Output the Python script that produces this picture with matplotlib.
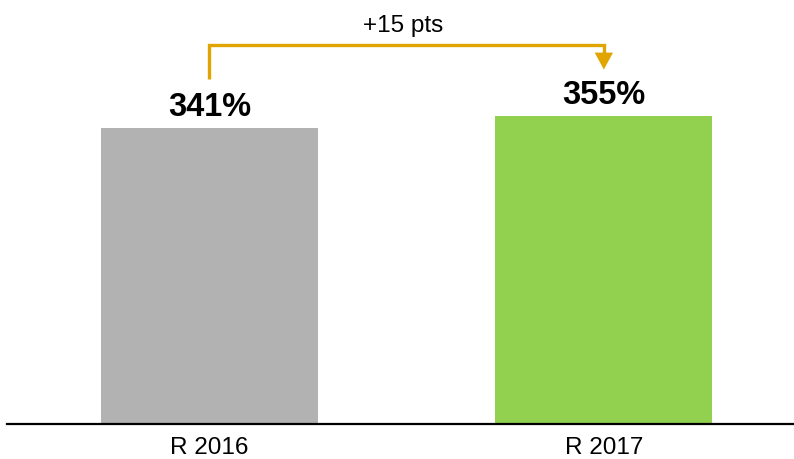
import matplotlib
matplotlib.use('Agg')
import matplotlib.pyplot as plt

categories = ['R 2016', 'R 2017']
values = [341, 355]
colors = ['#B2B2B2', '#92D050']
change_label = '+15 pts'

plt.rcParams['font.family'] = ['Liberation Sans', 'DejaVu Sans']

fig = plt.figure(figsize=(7.94, 4.59), dpi=100)
ax = fig.add_axes([7 / 794, 35 / 459, 1 - 7 / 794, 424 / 459])

x = list(range(len(categories)))
ax.bar(x, values, width=0.55, color=colors, zorder=2)

ax.set_xlim(-0.513, 1.482)
ax.set_ylim(0, 488)

for xi, v in zip(x, values):
    ax.annotate(f'{v}%', (xi, v), xytext=(0, 3.5), textcoords='offset points',
                ha='center', va='bottom', fontsize=23.5, fontweight='bold')

# bracket arrow between the two bars
gold = '#E0A500'
y_start = values[0] + 56
y_top = max(values) + 81
y_tip = values[1] + 53
ax.plot([x[0], x[0], x[1], x[1]], [y_start, y_top, y_top, y_tip + 18],
        color=gold, lw=2.4, solid_joinstyle='miter', solid_capstyle='butt')
ax.annotate('', xy=(x[1], y_tip), xytext=(x[1], y_tip + 20),
            arrowprops=dict(arrowstyle='-|>,head_width=0.65,head_length=1.2',
                            color=gold, lw=0.1, shrinkA=0, shrinkB=0))
ax.text((x[0] + x[1]) / 2 - 0.01, y_top + 9, change_label, ha='center',
        va='bottom', fontsize=17.5)

for s in ['top', 'right', 'left']:
    ax.spines[s].set_visible(False)
ax.spines['bottom'].set_linewidth(1.6)
ax.set_yticks([])
ax.set_xticks(x)
ax.set_xticklabels(categories, fontsize=17.5)
ax.tick_params(axis='x', length=0, pad=9)

fig.savefig('out.png', dpi=100)
